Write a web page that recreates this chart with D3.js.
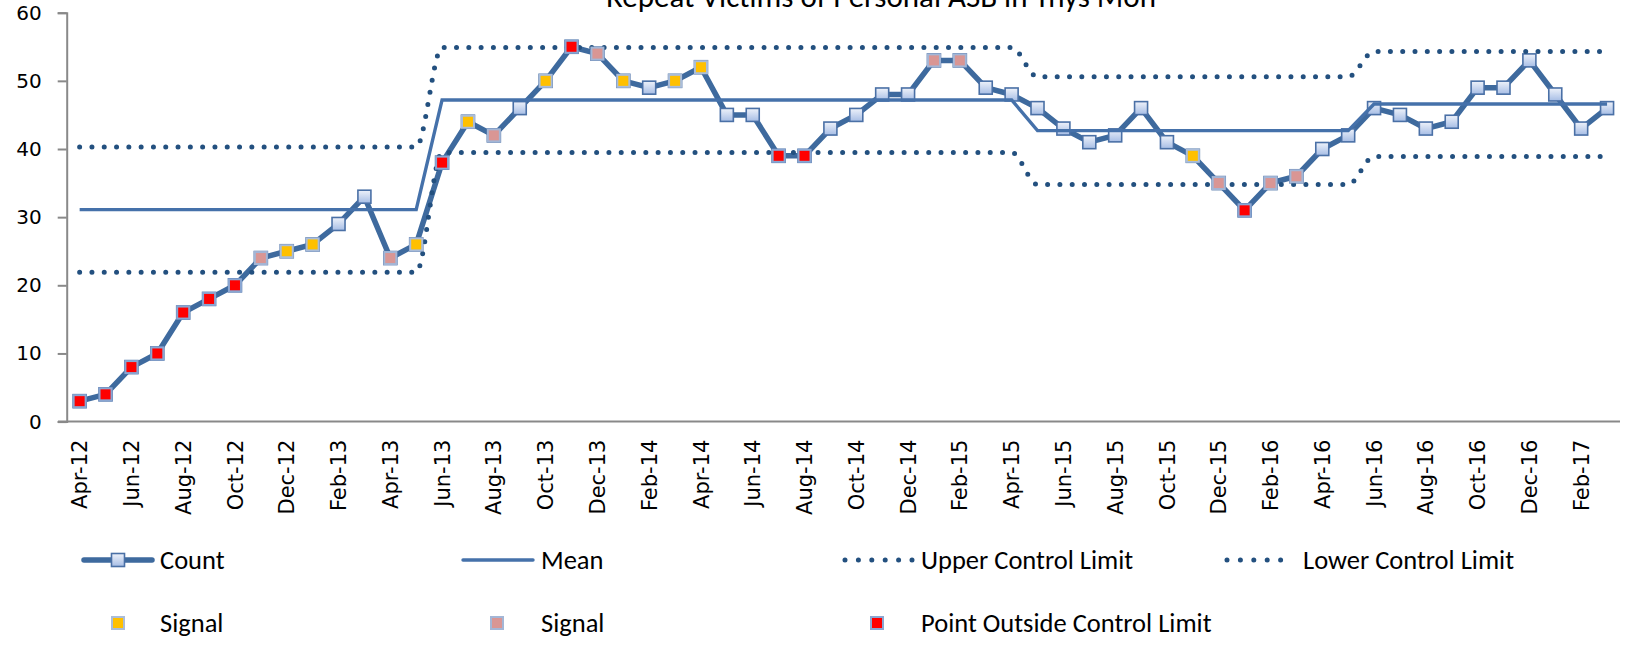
<!DOCTYPE html>
<html>
<head>
<meta charset="utf-8">
<script src="https://cdn.jsdelivr.net/npm/d3@7"></script>
<style>
  body { margin: 0; background: #fff; }
  svg { display: block; }
</style>
</head>
<body>
<div id="chart"></div>
<script>

var title = "Repeat Victims of Personal ASB in Ynys Mon";

var months = ["Apr-12","May-12","Jun-12","Jul-12","Aug-12","Sep-12","Oct-12","Nov-12","Dec-12",
    "Jan-13","Feb-13","Mar-13","Apr-13","May-13","Jun-13","Jul-13","Aug-13","Sep-13","Oct-13","Nov-13","Dec-13",
    "Jan-14","Feb-14","Mar-14","Apr-14","May-14","Jun-14","Jul-14","Aug-14","Sep-14","Oct-14","Nov-14","Dec-14",
    "Jan-15","Feb-15","Mar-15","Apr-15","May-15","Jun-15","Jul-15","Aug-15","Sep-15","Oct-15","Nov-15","Dec-15",
    "Jan-16","Feb-16","Mar-16","Apr-16","May-16","Jun-16","Jul-16","Aug-16","Sep-16","Oct-16","Nov-16","Dec-16",
    "Jan-17","Feb-17","Mar-17"];

var counts = [3,4,8,10,16,18,20,24,25,26,
              29,33,24,26,38,44,42,46,50,55,
              54,50,49,50,52,45,45,39,39,43,
              45,48,48,53,53,49,48,46,43,41,
              42,46,41,39,35,31,35,36,40,42,
              46,45,43,44,49,49,53,48,43,46];

// n = plain, y = signal (yellow), p = signal (pink), r = outside control limit
var pointFlags = ["r","r","r","r","r","r","r","p","y","y",
                  "n","n","p","y","r","y","p","n","y","r",
                  "p","y","n","y","y","n","n","r","r","n",
                  "n","n","n","p","p","n","n","n","n","n",
                  "n","n","n","y","p","r","p","p","n","n",
                  "n","n","n","n","n","n","n","n","n","n"];

// control limits recalculated in phases (index of first month of each phase)
var phaseStart = [0, 14, 37, 50];
var phaseMean  = [31.1, 47.2, 42.7, 46.6];
var phaseUCL   = [40.3, 54.9, 50.6, 54.3];
var phaseLCL   = [21.9, 39.5, 34.8, 38.9];

var yTicks = [0, 10, 20, 30, 40, 50, 60];

var W = 1629, H = 664;
var axisColor = "#898989", lineColor = "#3e6a9e", limitColor = "#23507f";

function phaseOf(i) {
    var p = 0;
    for (var k = 0; k < phaseStart.length; k++)
        if (i >= phaseStart[k]) p = k;
    return p;
}

var data = months.map(function(m, i) {
    var p = phaseOf(i);
    return { m: m, v: counts[i], s: pointFlags[i], mean: phaseMean[p], ucl: phaseUCL[p], lcl: phaseLCL[p] };
});

var svg = d3.select("#chart").append("svg").attr("width", W).attr("height", H);

var grad = svg.append("defs").append("linearGradient")
    .attr("id", "mkgrad").attr("x1", 0).attr("y1", 0).attr("x2", 0).attr("y2", 1);
grad.append("stop").attr("offset", "0%").attr("stop-color", "#eef2fa");
grad.append("stop").attr("offset", "100%").attr("stop-color", "#a6bde5");

var x = d3.scaleBand().domain(months).range([66.7, 1620]).padding(0);
var y = d3.scaleLinear().domain([0, 60]).range([421.6, 12.7]);
var cx = function(d) { return x(d.m) + x.bandwidth() / 2; };

// title (clipped at top like the original)
svg.append("text")
    .attr("x", 881).attr("y", 7)
    .attr("text-anchor", "middle")
    .style("font-family", "Carlito, Calibri, Lato, sans-serif")
    .style("font-size", "31px")
    .text(title);

// y axis
var yAxis = svg.append("g").attr("transform", "translate(66.7,0)")
    .call(d3.axisLeft(y).tickValues(yTicks).tickSize(9).tickPadding(16));
yAxis.select(".domain").attr("stroke", axisColor).attr("stroke-width", 2);
yAxis.selectAll(".tick line").attr("stroke", axisColor).attr("stroke-width", 2);
yAxis.selectAll("text").style("font-family", "DejaVu Sans, Verdana, sans-serif")
    .style("font-size", "20px").attr("fill", "#000");

// x axis
var xAxis = svg.append("g").attr("transform", "translate(0,421.6)")
    .call(d3.axisBottom(x).tickSize(0).tickValues(months.filter(function(m, i) { return i % 2 === 0; })));
xAxis.select(".domain").remove();
xAxis.selectAll("text")
    .style("font-family", "DejaVu Sans, Verdana, sans-serif")
    .style("font-size", "21px").attr("fill", "#000")
    .attr("text-anchor", "end")
    .attr("transform", "rotate(-90)")
    .attr("x", -18).attr("y", 0).attr("dy", "0.36em");
svg.append("line").attr("x1", 58).attr("x2", 1620).attr("y1", 421.6).attr("y2", 421.6)
    .attr("stroke", axisColor).attr("stroke-width", 2);

// count line
var line = d3.line().x(cx).y(function(d) { return y(d.v); });
svg.append("path").datum(data).attr("d", line)
    .attr("fill", "none").attr("stroke", lineColor).attr("stroke-width", 5.5)
    .attr("stroke-linejoin", "round");

// count markers
svg.selectAll(".mk").data(data).enter().append("rect")
    .attr("class", "mk")
    .attr("x", function(d) { return cx(d) - 6.5; })
    .attr("y", function(d) { return y(d.v) - 6.5; })
    .attr("width", 13).attr("height", 13)
    .attr("fill", "url(#mkgrad)").attr("stroke", "#4a70a6").attr("stroke-width", 1.6);

// mean
var meanLine = d3.line().x(cx).y(function(d) { return y(d.mean); });
svg.append("path").datum(data).attr("d", meanLine)
    .attr("fill", "none").attr("stroke", "#4571aa").attr("stroke-width", 3.4);

// control limits (smoothed, dotted)
["ucl", "lcl"].forEach(function(k) {
    var l = d3.line().curve(d3.curveMonotoneX).x(cx).y(function(d) { return y(d[k]); });
    svg.append("path").datum(data).attr("d", l)
        .attr("fill", "none").attr("stroke", limitColor).attr("stroke-width", 5)
        .attr("stroke-linecap", "round").attr("stroke-dasharray", "0 12.3");
});

// signal markers
var sigFill = { y: "#ffc000", p: "#d99694", r: "#ff0000" };
var sigStroke = { y: "#aabdd9", p: "#a3b6d6", r: "#8aa6d2" };
svg.selectAll(".sig").data(data.filter(function(d) { return d.s !== "n"; })).enter().append("rect")
    .attr("class", "sig")
    .attr("x", function(d) { return cx(d) - 6; })
    .attr("y", function(d) { return y(d.v) - 6; })
    .attr("width", 12).attr("height", 12)
    .attr("fill", function(d) { return sigFill[d.s]; })
    .attr("stroke", function(d) { return sigStroke[d.s]; }).attr("stroke-width", 2);

// legend
var lg = svg.append("g")
    .style("font-family", "Carlito, Calibri, Lato, sans-serif")
    .style("font-size", "26.5px");
function ltext(tx, ty, s) {
    lg.append("text").attr("x", tx).attr("y", ty).attr("dy", "0.35em").text(s);
}
var r1 = 560, r2 = 623;
lg.append("line").attr("x1", 84).attr("x2", 152).attr("y1", r1).attr("y2", r1)
    .attr("stroke", lineColor).attr("stroke-width", 5.5).attr("stroke-linecap", "round");
lg.append("rect").attr("x", 111.5).attr("y", r1 - 6.5).attr("width", 13).attr("height", 13)
    .attr("fill", "url(#mkgrad)").attr("stroke", "#4a70a6").attr("stroke-width", 1.6);
ltext(160, r1, "Count");
lg.append("line").attr("x1", 463).attr("x2", 533).attr("y1", r1).attr("y2", r1)
    .attr("stroke", "#4571aa").attr("stroke-width", 3.4).attr("stroke-linecap", "round");
ltext(541, r1, "Mean");
[[845, "Upper Control Limit"], [1227, "Lower Control Limit"]].forEach(function(e) {
    lg.append("line").attr("x1", e[0]).attr("x2", e[0] + 67).attr("y1", r1).attr("y2", r1)
        .attr("stroke", limitColor).attr("stroke-width", 5)
        .attr("stroke-linecap", "round").attr("stroke-dasharray", "0 13.4");
    ltext(e[0] + 76, r1, e[1]);
});
[[118, "y", "Signal", 160], [497, "p", "Signal", 541], [877, "r", "Point Outside Control Limit", 921]].forEach(function(e) {
    lg.append("rect").attr("x", e[0] - 6).attr("y", r2 - 6).attr("width", 12).attr("height", 12)
        .attr("fill", sigFill[e[1]]).attr("stroke", sigStroke[e[1]]).attr("stroke-width", 2);
    ltext(e[3], r2, e[2]);
});

</script>
</body>
</html>
